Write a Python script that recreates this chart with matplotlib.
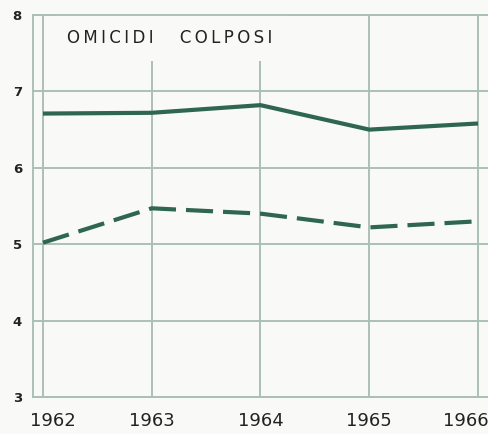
import matplotlib
matplotlib.use("Agg")
import matplotlib.pyplot as plt
import matplotlib.transforms as mtransforms

years = [1962, 1963, 1964, 1965, 1966]
solid_vals = [6.71, 6.72, 6.82, 6.50, 6.58]
dashed_vals = [5.02, 5.47, 5.40, 5.22, 5.30]
y_ticks = [3, 4, 5, 6, 7, 8]
x_labels = ["1962", "1963", "1964", "1965", "1966"]
title_words = ["OMICIDI", "COLPOSI"]

bg = "#f9f9f7"
grid_c = "#abc0b4"
line_c = "#2e6650"
text_c = "#222222"

fig = plt.figure(figsize=(4.88, 4.34), dpi=100, facecolor=bg)
ax = fig.add_axes([33/488, 1-397/434, 1-33/488, (397-15)/434])
ax.set_facecolor(bg)

ax.set_xlim(1962 - 10/108.75, 1966 + 10/108.75)
ax.set_ylim(3, 8)
ax.set_xticks(years)
ax.set_xticklabels(x_labels)
ax.set_yticks(y_ticks)
ax.grid(True, color=grid_c, linewidth=1.4)
for s in ["left", "bottom", "top"]:
    ax.spines[s].set_color(grid_c)
    ax.spines[s].set_linewidth(1.4)
ax.spines["right"].set_visible(False)
ax.tick_params(axis="x", length=0, pad=11, labelsize=13, labelcolor=text_c)
ax.tick_params(axis="y", length=0, pad=8, labelsize=9.5, labelcolor=text_c)
for lab in ax.get_yticklabels():
    lab.set_fontweight("bold")
# shift first and last year labels as in the original
xl = ax.get_xticklabels()
xl[0].set_transform(xl[0].get_transform() + mtransforms.ScaledTranslation(10/100, 0, fig.dpi_scale_trans))
xl[-1].set_transform(xl[-1].get_transform() + mtransforms.ScaledTranslation(-12/100, 0, fig.dpi_scale_trans))

ax.plot(years, solid_vals, color=line_c, linewidth=3.0, solid_capstyle="butt", zorder=3)
ax.plot(years, dashed_vals, color=line_c, linewidth=3.0, dashes=(6.5, 2.4), dash_capstyle="butt", zorder=3)

ts = "\u2009".join(title_words[0]) + "     " + "\u2009".join(title_words[1])
ax.text(67/488, 1-38/434, ts, transform=fig.transFigure,
        fontsize=12, color=text_c, ha="left", va="center", zorder=2,
        bbox=dict(facecolor=bg, edgecolor="none", boxstyle="square,pad=0.85"))

fig.savefig("out.png", dpi=100, facecolor=bg)
